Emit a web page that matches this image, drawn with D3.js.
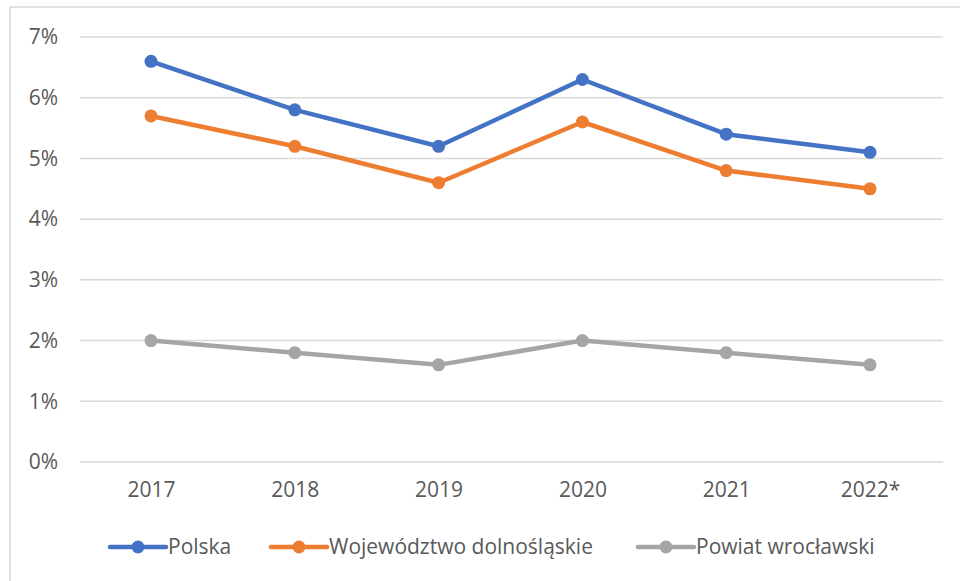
<!DOCTYPE html>
<html>
<head>
<meta charset="utf-8">
<script src="https://cdn.jsdelivr.net/npm/d3@7"></script>
<style>
  body { margin: 0; background: #fff; }
  text { font-family: "Open Sans", sans-serif; fill: #595959; }
</style>
</head>
<body>
<script>
/* Data */

var years = ["2017", "2018", "2019", "2020", "2021", "2022*"];
var seriesNames = ["Polska", "Województwo dolnośląskie", "Powiat wrocławski"];
var polska = [6.6, 5.8, 5.2, 6.3, 5.4, 5.1];
var dolnoslaskie = [5.7, 5.2, 4.6, 5.6, 4.8, 4.5];
var wroclawski = [2.0, 1.8, 1.6, 2.0, 1.8, 1.6];
var yTicks = [0, 1, 2, 3, 4, 5, 6, 7];

var colors = ["#4472C4", "#ED7D31", "#A5A5A5"];

/* Canvas */

var width = 960;
var height = 581;
var fontSize = 21;

var svg = d3.select("body").append("svg")
	.attr("width", width)
	.attr("height", height);

// chart frame, cut off at right and bottom like in the picture
svg.append("rect")
	.attr("x", 10)
	.attr("y", 7)
	.attr("width", 980)
	.attr("height", 600)
	.attr("fill", "none")
	.attr("stroke", "#D9D9D9")
	.attr("stroke-width", 1.5);

var x = d3.scalePoint()
	.domain(years)
	.range([151, 870]);

var y = d3.scaleLinear()
	.domain([0, 7])
	.range([462, 37]);

// gridlines
svg.append("g")
	.selectAll("line")
	.data(yTicks)
	.enter().append("line")
		.attr("x1", 80)
		.attr("x2", 943)
		.attr("y1", function(d) { return y(d); })
		.attr("y2", function(d) { return y(d); })
		.attr("stroke", "#D9D9D9")
		.attr("stroke-width", 1.5);

// y axis
var yAxis = svg.append("g")
	.attr("transform", "translate(58,0)")
	.call(d3.axisLeft(y).tickValues(yTicks).tickSize(0).tickPadding(0)
		.tickFormat(function(d) { return d + "%"; }));
yAxis.select(".domain").remove();
yAxis.selectAll("text")
	.attr("font-size", fontSize)
	.attr("font-family", null)
	.attr("fill", null);

// x axis
var xAxis = svg.append("g")
	.attr("transform", "translate(0,482)")
	.call(d3.axisBottom(x).tickSize(0).tickPadding(0));
xAxis.select(".domain").remove();
xAxis.selectAll("text")
	.attr("font-size", fontSize)
	.attr("font-family", null)
	.attr("fill", null);

// lines
var allSeries = [polska, dolnoslaskie, wroclawski];

var line = d3.line()
	.x(function(d, i) { return x(years[i]); })
	.y(function(d) { return y(d); });

allSeries.forEach(function(values, s) {
	svg.append("path")
		.datum(values)
		.attr("d", line)
		.attr("fill", "none")
		.attr("stroke", colors[s])
		.attr("stroke-width", 4.5)
		.attr("stroke-linejoin", "round")
		.attr("stroke-linecap", "round");

	svg.append("g")
		.selectAll("circle")
		.data(values)
		.enter().append("circle")
			.attr("cx", function(d, i) { return x(years[i]); })
			.attr("cy", function(d) { return y(d); })
			.attr("r", 6.5)
			.attr("fill", colors[s]);
});

// legend
var legendX = [110, 271, 638];

var legend = svg.append("g")
	.selectAll("g")
	.data(seriesNames)
	.enter().append("g")
		.attr("transform", function(d, i) { return "translate(" + legendX[i] + ",547)"; });

legend.append("line")
	.attr("x1", 0)
	.attr("x2", 56)
	.attr("stroke", function(d, i) { return colors[i]; })
	.attr("stroke-width", 4.5)
	.attr("stroke-linecap", "round");

legend.append("circle")
	.attr("cx", 28)
	.attr("r", 6.5)
	.attr("fill", function(d, i) { return colors[i]; });

legend.append("text")
	.attr("x", 58)
	.attr("dy", "0.35em")
	.attr("font-size", fontSize)
	.text(function(d) { return d; });
</script>
</body>
</html>
